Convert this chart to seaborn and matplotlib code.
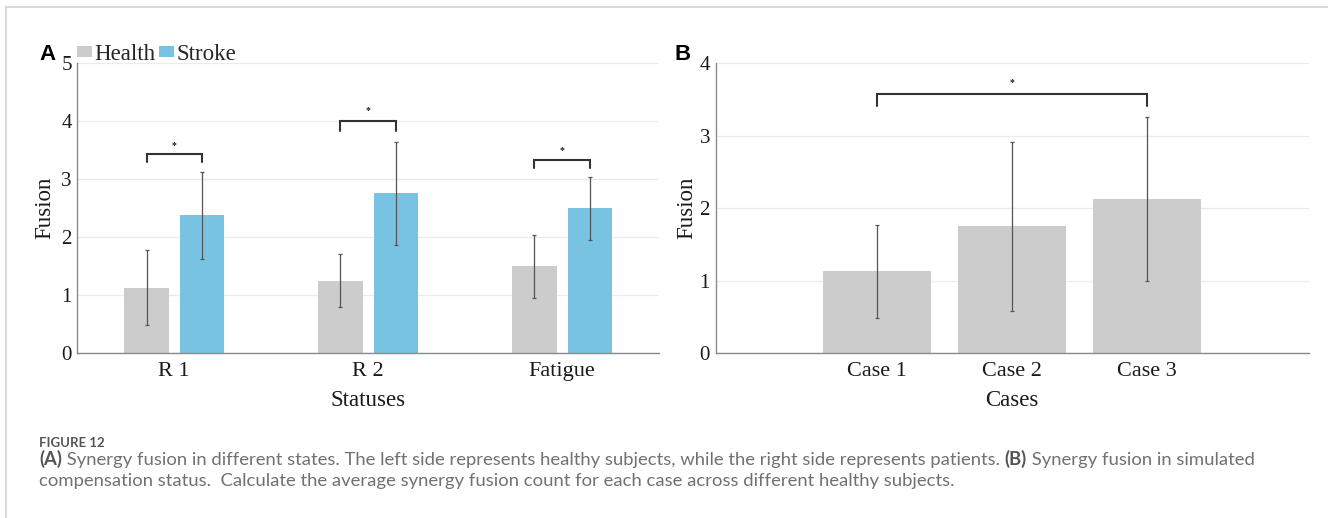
import numpy as np
import pandas as pd
import matplotlib
matplotlib.use("Agg")
import matplotlib.pyplot as plt
from matplotlib.lines import Line2D
from matplotlib.patches import Patch
from matplotlib.container import BarContainer
import seaborn as sns

# ---------------- data ----------------
statuses = ["R 1", "R 2", "Fatigue"]
groups = ["Health", "Stroke"]
health_mean = [1.13, 1.25, 1.50]
health_err = [0.65, 0.46, 0.54]
stroke_mean = [2.38, 2.76, 2.50]
stroke_err = [0.75, 0.89, 0.54]
bracketA_top = [3.43, 4.01, 3.34]
bracketA_leg = [3.29, 3.84, 3.20]
starA_y = [3.58, 4.19, 3.49]

cases = ["Case 1", "Case 2", "Case 3"]
case_mean = [1.13, 1.75, 2.13]
case_err = [0.64, 1.17, 1.13]
bracketB_top = [3.58]
bracketB_leg = [3.41]
starB_y = [3.74]

yticksA = [0, 1, 2, 3, 4, 5]
yticksB = [0, 1, 2, 3, 4]

caption_title = "FIGURE 12"
caption_l1 = [("(A)", "bold"),
              (" Synergy fusion in different states. The left side represents healthy subjects, while the right side represents patients. ", "normal"),
              ("(B)", "bold"),
              (" Synergy fusion in simulated", "normal")]
caption_l2 = [("compensation status.  Calculate the average synergy fusion count for each case across different healthy subjects.", "normal")]

# ---------------- style ----------------
GRAY = "#cccccc"
BLUE = "#78c3e2"
SPINE = "#8a8a8a"
GRID = "#ebebeb"
TXT = "#1a1a1a"
FS_LAB = 16.5
FS_XT = 16
FS_YT = 15

sns.set_theme(style="white")
plt.rcParams["font.family"] = ["Liberation Serif", "DejaVu Serif"]
plt.rcParams["axes.edgecolor"] = SPINE

W, H = 1328, 518
fig = plt.figure(figsize=(W / 100, H / 100), dpi=100)

def px_axes(l, t, r, b):
    return fig.add_axes([l / W, 1 - b / H, (r - l) / W, (b - t) / H])

axA = px_axes(77.3, 63.3, 659, 353.3)
axB = px_axes(715.5, 63.3, 1309, 353.3)

# ---------------- panel A ----------------
dfA = pd.DataFrame({
    "status": statuses * 2,
    "group": [groups[0]] * 3 + [groups[1]] * 3,
    "fusion": health_mean + stroke_mean,
})
sns.barplot(data=dfA, x="status", y="fusion", hue="group", order=statuses,
            hue_order=groups, palette=[GRAY, BLUE], width=0.572, gap=0.2,
            saturation=1, errorbar=None, linewidth=0, legend=False, ax=axA)

errs = [health_err, stroke_err]
means = [health_mean, stroke_mean]
bar_conts = [c for c in axA.containers if isinstance(c, BarContainer)]
centers = []
for ci, cont in enumerate(bar_conts):
    xs = [p.get_x() + p.get_width() / 2 for p in cont.patches]
    centers.append(xs)
for ci in range(len(bar_conts)):
    axA.errorbar(centers[ci], means[ci], yerr=errs[ci], fmt="none", ecolor="#555555",
                 elinewidth=0.9, capsize=1.6, capthick=0.9, zorder=4)

for i in range(len(statuses)):
    x0, x1 = centers[0][i], centers[1][i]
    axA.plot([x0, x0, x1, x1], [bracketA_leg[i], bracketA_top[i], bracketA_top[i], bracketA_leg[i]],
             color="#333333", lw=1.5, solid_joinstyle="miter", zorder=5)
    axA.text((x0 + x1) / 2, starA_y[i], "*", ha="center", va="center", fontsize=7,
             fontweight="bold", color="#222222")

axA.set_xlim(-0.5, len(statuses) - 0.5)
axA.set_ylim(0, 5)
axA.set_yticks(yticksA)
axA.set_xlabel("Statuses", fontsize=FS_LAB)
axA.set_ylabel("Fusion", fontsize=FS_LAB)
axA.xaxis.set_label_coords(0.5, -0.128)
axA.yaxis.set_label_coords(-0.037, 0.5)

handles = [Patch(facecolor=GRAY, edgecolor="none"), Patch(facecolor=BLUE, edgecolor="none")]
axA.legend(handles, groups, loc="center left", bbox_to_anchor=(0.0, 1.03), ncol=2,
           frameon=False, fontsize=FS_LAB, handlelength=0.66, handleheight=0.36,
           handletextpad=0.1, columnspacing=0.15, borderpad=0, borderaxespad=0)

# ---------------- panel B ----------------
sns.barplot(x=cases, y=case_mean, color=GRAY, width=0.8, saturation=1,
            errorbar=None, linewidth=0, ax=axB)
barB = [c for c in axB.containers if isinstance(c, BarContainer)][0]
xsB = [p.get_x() + p.get_width() / 2 for p in barB.patches]
axB.errorbar(xsB, case_mean, yerr=case_err, fmt="none", ecolor="#555555",
             elinewidth=0.9, capsize=1.6, capthick=0.9, zorder=4)
x0, x1 = xsB[0], xsB[-1]
axB.plot([x0, x0, x1, x1], [bracketB_leg[0], bracketB_top[0], bracketB_top[0], bracketB_leg[0]],
         color="#333333", lw=1.5, solid_joinstyle="miter", zorder=5)
axB.text(xsB[1], starB_y[0], "*", ha="center", va="center", fontsize=7,
         fontweight="bold", color="#222222")

axB.set_xlim(-1.2, len(cases) + 0.2)
axB.set_ylim(0, 4)
axB.set_yticks(yticksB)
axB.set_xlabel("Cases", fontsize=FS_LAB)
axB.set_ylabel("Fusion", fontsize=FS_LAB)
axB.xaxis.set_label_coords(0.5, -0.128)
axB.yaxis.set_label_coords(-0.030, 0.5)

for ax in (axA, axB):
    ax.set_axisbelow(True)
    ax.yaxis.grid(True, color=GRID, lw=1)
    ax.xaxis.grid(False)
    for s in ("top", "right"):
        ax.spines[s].set_visible(False)
    for s in ("left", "bottom"):
        ax.spines[s].set_color(SPINE)
        ax.spines[s].set_linewidth(1)
    ax.tick_params(axis="both", direction="in", length=3, width=0.8, color=SPINE,
                   labelcolor=TXT)
    ax.tick_params(axis="x", pad=6, labelsize=FS_XT)
    ax.tick_params(axis="y", pad=4, labelsize=FS_YT)
    ax.xaxis.label.set_color(TXT)
    ax.yaxis.label.set_color(TXT)

# panel letters
fig.text(39 / W, 1 - 60 / H, "A", family=["Liberation Sans", "DejaVu Sans"], fontweight="bold",
         fontsize=16, va="baseline", ha="left", color="black")
fig.text(675 / W, 1 - 60 / H, "B", family=["Liberation Sans", "DejaVu Sans"], fontweight="bold",
         fontsize=16, va="baseline", ha="left", color="black")

# frame lines of the figure box
fig.add_artist(Line2D([6 / W, 1], [1 - 7 / H, 1 - 7 / H], transform=fig.transFigure,
                      color="#d2d2d2", lw=1.2))
fig.add_artist(Line2D([6 / W, 6 / W], [0, 1 - 7 / H], transform=fig.transFigure,
                      color="#d2d2d2", lw=1.2))

# caption
renderer = fig.canvas.get_renderer()
CAP_FONT = ["Lato", "DejaVu Sans"]
fig.text(39 / W, 1 - 447 / H, caption_title, family=CAP_FONT, fontweight="bold",
         fontsize=9.5, color="#555555", va="baseline")

def runs(y, parts, x0=39, fs=13.3):
    x = x0
    for txt, wt in parts:
        t = fig.text(x / W, 1 - y / H, txt, family=CAP_FONT, fontweight=wt, fontsize=fs,
                     color="#717171" if wt == "normal" else "#555555", va="baseline")
        x += t.get_window_extent(renderer).width

runs(465, caption_l1)
runs(486, caption_l2)

fig.savefig("out.png", dpi=100)
